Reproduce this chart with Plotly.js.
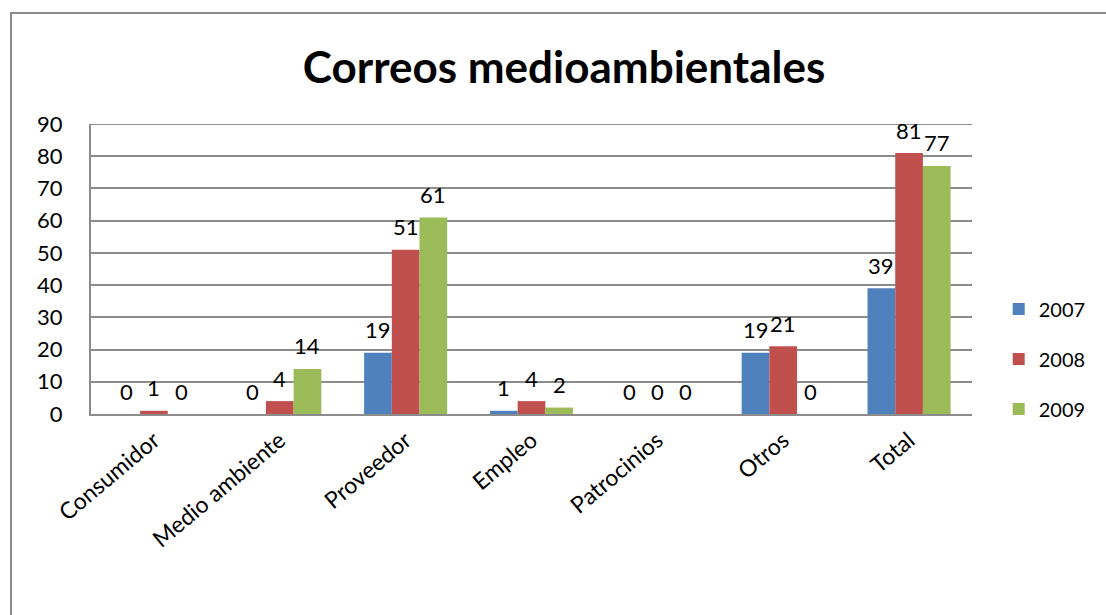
<!DOCTYPE html>
<html>
<head>
<meta charset="utf-8">
<script src="https://cdn.plot.ly/plotly-3.0.1.min.js"></script>
<style>
  html, body { margin: 0; padding: 0; background: #fff; }
  #wrap { position: relative; width: 1106px; height: 615px; overflow: hidden; }
  #frame { position: absolute; left: 10px; top: 12px; width: 1200px; height: 800px;
           border-left: 2px solid #8c8c8c; border-top: 2px solid #8c8c8c; box-sizing: border-box; }
  #chart { position: absolute; left: 0; top: 0; width: 1106px; height: 615px; }
</style>
</head>
<body>
<div id="wrap">
  <div id="frame"></div>
  <div id="chart"></div>
</div>
<script>
const categories = ["Consumidor", "Medio ambiente", "Proveedor", "Empleo", "Patrocinios", "Otros", "Total"];
const seriesNames = ["2007", "2008", "2009"];
const values2007 = [0, 0, 19, 1, 0, 19, 39];
const values2008 = [1, 4, 51, 4, 0, 21, 81];
const values2009 = [0, 14, 61, 2, 0, 0, 77];
const colors = ["#4F81BD", "#C0504D", "#9BBB59"];
const yMax = 90;

const FONT = "Lato, 'Open Sans', sans-serif";
const allValues = [values2007, values2008, values2009];

const traces = allValues.map((vals, i) => ({
  type: "bar",
  name: seriesNames[i],
  x: categories,
  y: vals,
  marker: { color: colors[i], line: { width: 0 } },
  legendgroup: "g" + i,
  hoverinfo: "x+y+name"
}));

// data labels as annotations, offset per series
const barPx = 27.7;
const annotations = [];
allValues.forEach((vals, i) => {
  vals.forEach((v, j) => {
    annotations.push({
      x: categories[j], y: v, xref: "x", yref: "y",
      text: String(v), showarrow: false,
      xshift: (i - 1) * barPx, yshift: 23,
      yanchor: "middle", xanchor: "center",
      font: { family: FONT, size: 22, color: "#000" }
    });
  });
});

const layout = {
  width: 1106, height: 615,
  paper_bgcolor: "rgba(0,0,0,0)",
  plot_bgcolor: "rgba(0,0,0,0)",
  margin: { l: 91, r: 134, t: 124, b: 201, pad: 0, autoexpand: false },
  title: {
    text: "<b>Correos medioambientales</b>",
    x: 0.51, xref: "container", xanchor: "center",
    y: 0.89, yref: "container", yanchor: "middle",
    font: { family: FONT, size: 44, color: "#000" }
  },
  barmode: "group",
  bargap: 0.34,
  bargroupgap: 0,
  xaxis: {
    type: "category",
    tickangle: -40,
    showline: true, linecolor: "#8c8c8c", linewidth: 2,
    showgrid: false, ticks: "",
    ticklabelstandoff: 2,
    tickfont: { family: FONT, size: 23, color: "#000" },
    fixedrange: true
  },
  yaxis: {
    range: [0, yMax],
    dtick: 10, tick0: 0,
    showline: true, linecolor: "#8c8c8c", linewidth: 2,
    showgrid: true, gridcolor: "#8c8c8c", gridwidth: 2,
    zeroline: false,
    ticks: "",
    ticklabelstandoff: 22,
    tickfont: { family: FONT, size: 22, color: "#000" },
    fixedrange: true
  },
  shapes: [{
    type: "line", xref: "paper", yref: "y",
    x0: 0, x1: 1, y0: yMax, y1: yMax,
    line: { color: "#8c8c8c", width: 2 }
  }],
  legend: {
    x: 0.903, xanchor: "left", xref: "container",
    y: 0.19, yanchor: "middle", yref: "paper",
    traceorder: "grouped",
    tracegroupgap: 21,
    font: { family: FONT, size: 20, color: "#000" },
    bgcolor: "rgba(0,0,0,0)",
    itemwidth: 30
  },
  annotations: annotations,
  showlegend: true
};

Plotly.newPlot("chart", traces, layout, { displayModeBar: false, staticPlot: true });
</script>
</body>
</html>
